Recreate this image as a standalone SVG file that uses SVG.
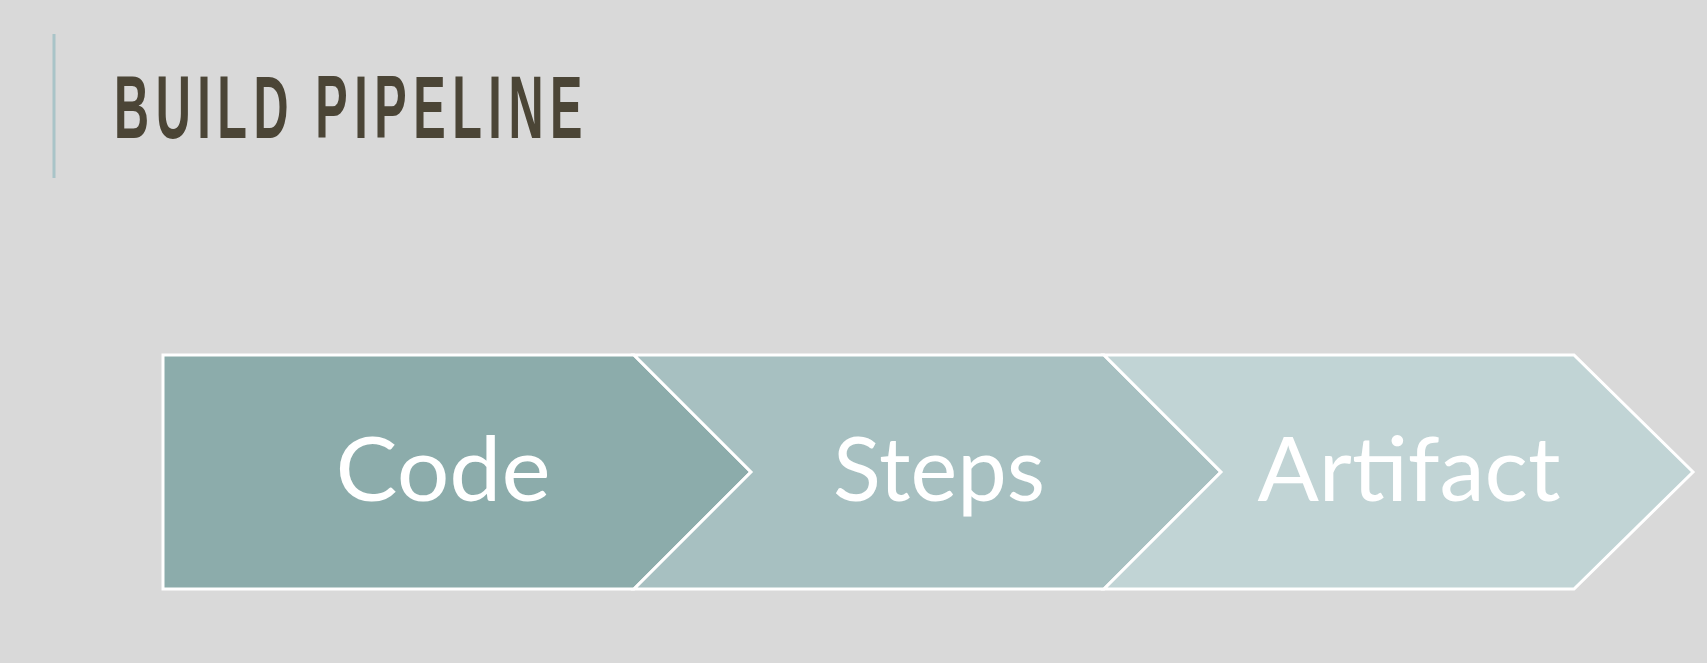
<svg xmlns="http://www.w3.org/2000/svg" width="1707" height="663" viewBox="0 0 1707 663">
<style>
.bg{fill:#d9d9d9}
.step{stroke:#ffffff;stroke-width:3;stroke-linejoin:miter}
.s1{fill:#8cacab}
.s2{fill:#a7c0c1}
.s3{fill:#c1d4d5}
.lbl{font-family:Lato,"Liberation Sans",sans-serif;font-size:90px;fill:#ffffff;text-anchor:middle}
.title{font-family:"Liberation Sans",Arial,sans-serif;font-size:89px;font-weight:bold;letter-spacing:12px;fill:#4b4536}
</style>
<rect class="bg" x="0" y="0" width="1707" height="663"/>
<g id="title">
<rect x="52.5" y="34" width="3" height="144" fill="#a9c4c8"/>
<text class="title" x="114" y="138" textLength="475" lengthAdjust="spacingAndGlyphs">BUILD PIPELINE</text>
</g>
<g id="connectors"/>
<g id="node-code">
<polygon class="step s1" points="163,355 634,355 751,472 634,589 163,589"/>
<text class="lbl" x="443" y="501" textLength="215" lengthAdjust="spacingAndGlyphs">Code</text>
</g>
<g id="node-steps">
<polygon class="step s2" points="634,355 1104,355 1221,472 1104,589 634,589 751,472"/>
<text class="lbl" x="939" y="501" textLength="212" lengthAdjust="spacingAndGlyphs">Steps</text>
</g>
<g id="node-artifact">
<polygon class="step s3" points="1104,355 1574,355 1693,472 1574,589 1104,589 1221,472"/>
<text class="lbl" x="1409" y="501" textLength="303" lengthAdjust="spacingAndGlyphs">Artifact</text>
</g>
</svg>
